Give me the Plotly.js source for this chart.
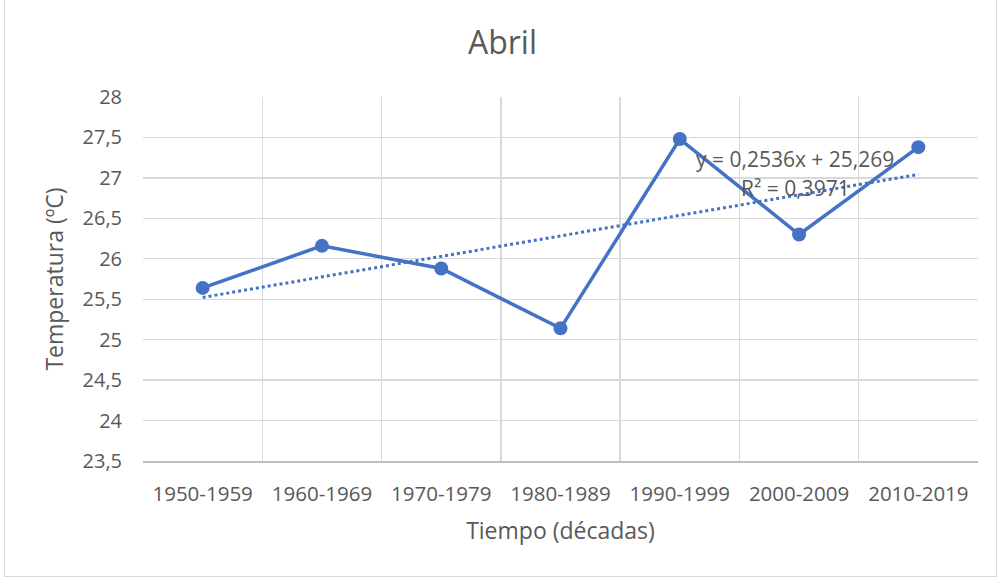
<!DOCTYPE html>
<html>
<head>
<meta charset="utf-8">
<script src="https://cdn.plot.ly/plotly-3.0.1.min.js"></script>
<style>
html,body{margin:0;padding:0;background:#fff;}
#wrap{position:relative;width:1005px;height:583px;}
#chart{width:1005px;height:583px;}
#frame{position:absolute;left:4px;top:-1px;width:993px;height:578px;border:1.5px solid #D9D9D9;pointer-events:none;box-sizing:border-box;}
</style>
</head>
<body>
<div id="wrap"><div id="chart"></div><div id="frame"></div></div>
<script>
const categories = ["1950-1959","1960-1969","1970-1979","1980-1989","1990-1999","2000-2009","2010-2019"];
const temperatures = [25.64, 26.16, 25.88, 25.14, 27.48, 26.30, 27.38];
const trendLabel = "y = 0,2536x + 25,269";
const r2Label = "R² = 0,3971";

// linear least-squares trendline (as Excel computes it) over x = 1..n
const n = temperatures.length;
const xs = temperatures.map((_, i) => i + 1);
const mx = xs.reduce((a, b) => a + b, 0) / n;
const my = temperatures.reduce((a, b) => a + b, 0) / n;
let sxy = 0, sxx = 0;
for (let i = 0; i < n; i++) { sxy += (xs[i] - mx) * (temperatures[i] - my); sxx += (xs[i] - mx) ** 2; }
const slope = sxy / sxx, intercept = my - slope * mx;
const trend = xs.map(x => intercept + slope * x);

const font = "Open Sans, Noto Sans, sans-serif";
const grey = "#595959";
const blue = "#4472C4";

const data = [
  {x: categories, y: temperatures, type: "scatter", mode: "lines+markers",
   line: {color: blue, width: 3.5}, marker: {color: blue, size: 14}, hoverinfo: "skip"},
  {x: categories, y: trend, type: "scatter", mode: "lines",
   line: {color: blue, width: 3, dash: "dot"}, hoverinfo: "skip"}
];

const layout = {
  width: 1005, height: 583,
  margin: {l: 143, r: 27, t: 97, b: 122},
  paper_bgcolor: "#fff", plot_bgcolor: "#fff",
  separators: ",.",
  showlegend: false,
  font: {family: font, color: grey, size: 20},
  title: {text: "Abril", font: {family: font, size: 32, color: grey}, x: 0.5, xanchor: "center", y: 0.926, yanchor: "middle"},
  xaxis: {
    type: "category", range: [-0.5, 6.5], tickson: "boundaries",
    showgrid: true, gridcolor: "#D9D9D9", gridwidth: 1.3,
    showline: true, linecolor: "#BFBFBF", linewidth: 1.5,
    ticks: "", ticklabelstandoff: 14,
    tickfont: {family: font, size: 20.5, color: grey},
    title: {text: "Tiempo (décadas)", font: {family: font, size: 23, color: grey}, standoff: 17},
    zeroline: false, fixedrange: true
  },
  yaxis: {
    range: [23.5, 28], dtick: 0.5, tick0: 23.5,
    showgrid: true, gridcolor: "#D9D9D9", gridwidth: 1.3,
    showline: false, zeroline: false, ticks: "", ticklabelstandoff: 20,
    tickfont: {family: font, size: 20, color: grey},
    title: {text: "Temperatura (ºC)", font: {family: font, size: 23, color: grey}, standoff: 12},
    fixedrange: true
  },
  annotations: [
    {xref: "paper", yref: "paper", x: 0.781, y: 0.829, text: trendLabel, showarrow: false,
     font: {family: font, size: 21, color: grey}, xanchor: "center", yanchor: "middle"},
    {xref: "paper", yref: "paper", x: 0.782, y: 0.749, text: r2Label, showarrow: false,
     font: {family: font, size: 21, color: grey}, xanchor: "center", yanchor: "middle"}
  ]
};

Plotly.newPlot("chart", data, layout, {displayModeBar: false, staticPlot: true});
</script>
</body>
</html>
